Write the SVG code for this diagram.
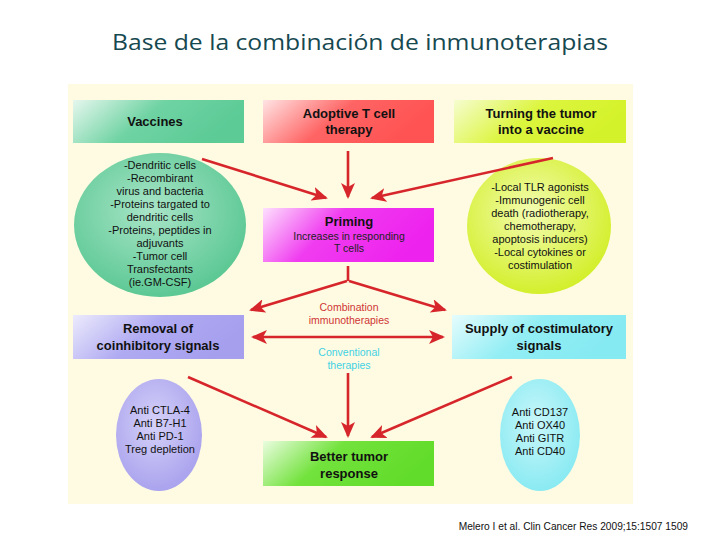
<svg xmlns="http://www.w3.org/2000/svg" width="720" height="540" viewBox="0 0 720 540">
<defs>
<style>
.title{font-family:"Open Sans","Liberation Sans",sans-serif;font-size:21px;fill:#164850;text-anchor:middle}
.bt{font-family:"Liberation Sans",Arial,sans-serif;font-weight:bold;font-size:13px;fill:#111;text-anchor:middle}
.st{font-family:"Liberation Sans",Arial,sans-serif;font-size:10.5px;fill:#222;text-anchor:middle}
.et{font-family:"Liberation Sans",Arial,sans-serif;font-size:11px;fill:#111;text-anchor:middle}
.cite{font-family:"Liberation Sans",Arial,sans-serif;font-size:10.2px;fill:#111;text-anchor:end}
.conn{stroke:#d7262b;stroke-width:2.6;fill:none}
</style>
<marker id="ah" markerUnits="userSpaceOnUse" markerWidth="16" markerHeight="14" refX="14" refY="7" orient="auto-start-reverse">
<path d="M0,0 L16,7 L0,14 L4,7 Z" fill="#d7262b"/>
</marker>
<linearGradient id="gGreen" x1="0" y1="0" x2="1" y2="0.3"><stop offset="0" stop-color="#e6f7ee"/><stop offset="0.5" stop-color="#6fd3a3"/><stop offset="1" stop-color="#5ccb96"/></linearGradient>
<linearGradient id="gRed" x1="0" y1="0" x2="1" y2="0.3"><stop offset="0" stop-color="#ffe4e4"/><stop offset="0.5" stop-color="#ff6464"/><stop offset="1" stop-color="#ff5252"/></linearGradient>
<linearGradient id="gYel" x1="0" y1="0" x2="1" y2="0.3"><stop offset="0" stop-color="#f6fdd0"/><stop offset="0.5" stop-color="#dcf53e"/><stop offset="1" stop-color="#d4f22a"/></linearGradient>
<linearGradient id="gMag" x1="0" y1="0" x2="1" y2="0.3"><stop offset="0" stop-color="#fde0fd"/><stop offset="0.45" stop-color="#f03cf0"/><stop offset="1" stop-color="#ee22ee"/></linearGradient>
<linearGradient id="gLav" x1="0" y1="0" x2="1" y2="0.3"><stop offset="0" stop-color="#ecebfc"/><stop offset="0.5" stop-color="#b0aaf2"/><stop offset="1" stop-color="#a69fee"/></linearGradient>
<linearGradient id="gCyan" x1="0" y1="0" x2="1" y2="0.3"><stop offset="0" stop-color="#e6fcfd"/><stop offset="0.5" stop-color="#92eef4"/><stop offset="1" stop-color="#86eaf2"/></linearGradient>
<linearGradient id="gLime" x1="0" y1="0" x2="1" y2="0.3"><stop offset="0" stop-color="#eafde0"/><stop offset="0.45" stop-color="#72e23c"/><stop offset="1" stop-color="#62dc2a"/></linearGradient>
<radialGradient id="rGreen" cx="0.45" cy="0.4" r="0.6"><stop offset="0" stop-color="#a9e5c8"/><stop offset="1" stop-color="#5cc894"/></radialGradient>
<radialGradient id="rYel" cx="0.45" cy="0.4" r="0.6"><stop offset="0" stop-color="#f3fcb2"/><stop offset="1" stop-color="#d3ef2c"/></radialGradient>
<radialGradient id="rLav" cx="0.45" cy="0.4" r="0.6"><stop offset="0" stop-color="#d6d2f8"/><stop offset="1" stop-color="#aaa3ee"/></radialGradient>
<radialGradient id="rCyan" cx="0.45" cy="0.4" r="0.6"><stop offset="0" stop-color="#c8f7fa"/><stop offset="1" stop-color="#8aeaf2"/></radialGradient>
</defs>
<rect width="720" height="540" fill="#ffffff"/>
<text class="title" x="360" y="50" textLength="496" lengthAdjust="spacingAndGlyphs">Base de la combinación de inmunoterapias</text>
<rect x="68" y="84" width="565" height="420" fill="#fffbe2"/>

<g id="label-combination">
<text class="st" x="349" y="311" style="fill:#cf3535">Combination</text>
<text class="st" x="349" y="324" style="fill:#cf3535">immunotherapies</text>
</g>
<g id="label-conventional">
<text class="st" x="349" y="356" style="fill:#3fd2e4">Conventional</text>
<text class="st" x="349" y="369" style="fill:#3fd2e4">therapies</text>
</g>

<g id="vaccines">
<rect x="73" y="100" width="171" height="43" fill="url(#gGreen)"/>
<text class="bt" x="155" y="126">Vaccines</text>
</g>
<g id="adoptive">
<rect x="263" y="100" width="171" height="43" fill="url(#gRed)"/>
<text class="bt" x="349" y="118">Adoptive T cell</text>
<text class="bt" x="349" y="134">therapy</text>
</g>
<g id="turning">
<rect x="454" y="100" width="172" height="43" fill="url(#gYel)"/>
<text class="bt" x="541" y="118">Turning the tumor</text>
<text class="bt" x="541" y="134">into a vaccine</text>
</g>

<g id="vaccines-list">
<ellipse cx="160" cy="225" rx="86" ry="72" fill="url(#rGreen)"/>
<text class="et" x="160" y="169">-Dendritic cells</text>
<text class="et" x="160" y="182">-Recombirant</text>
<text class="et" x="160" y="195">virus and bacteria</text>
<text class="et" x="160" y="208">-Proteins targated to</text>
<text class="et" x="160" y="221">dendritic cells</text>
<text class="et" x="160" y="234">-Proteins, peptides in</text>
<text class="et" x="160" y="247">adjuvants</text>
<text class="et" x="160" y="260">-Tumor cell</text>
<text class="et" x="160" y="273">Transfectants</text>
<text class="et" x="160" y="286">(ie.GM-CSF)</text>
</g>

<g id="turning-list">
<ellipse cx="539" cy="226" rx="72" ry="68" fill="url(#rYel)"/>
<text class="et" x="540" y="191">-Local TLR agonists</text>
<text class="et" x="540" y="204">-Immunogenic cell</text>
<text class="et" x="540" y="217">death (radiotherapy,</text>
<text class="et" x="540" y="230">chemotherapy,</text>
<text class="et" x="540" y="243">apoptosis inducers)</text>
<text class="et" x="540" y="256">-Local cytokines or</text>
<text class="et" x="540" y="269">costimulation</text>
</g>

<g id="priming">
<rect x="263" y="208" width="171" height="54" fill="url(#gMag)"/>
<text class="bt" x="349" y="226">Priming</text>
<text class="st" x="349" y="240">Increases in responding</text>
<text class="st" x="349" y="252">T cells</text>
</g>

<g id="removal">
<rect x="73" y="315" width="171" height="44" fill="url(#gLav)"/>
<text class="bt" x="158" y="333">Removal of</text>
<text class="bt" x="158" y="350">coinhibitory signals</text>
</g>
<g id="supply">
<rect x="452" y="315" width="174" height="44" fill="url(#gCyan)"/>
<text class="bt" x="539" y="333">Supply of costimulatory</text>
<text class="bt" x="539" y="350">signals</text>
</g>

<g id="removal-list">
<ellipse cx="159" cy="435" rx="43" ry="56" fill="url(#rLav)"/>
<text class="et" x="160" y="414">Anti CTLA-4</text>
<text class="et" x="160" y="427">Anti B7-H1</text>
<text class="et" x="160" y="440">Anti PD-1</text>
<text class="et" x="160" y="453">Treg depletion</text>
</g>
<g id="supply-list">
<ellipse cx="540" cy="435" rx="40" ry="56" fill="url(#rCyan)"/>
<text class="et" x="540" y="416">Anti CD137</text>
<text class="et" x="540" y="429">Anti OX40</text>
<text class="et" x="540" y="442">Anti GITR</text>
<text class="et" x="540" y="455">Anti CD40</text>
</g>

<g id="better">
<rect x="263" y="441" width="171" height="45" fill="url(#gLime)"/>
<text class="bt" x="349" y="461">Better tumor</text>
<text class="bt" x="349" y="478">response</text>
</g>

<g id="connectors">
<line class="conn" x1="202" y1="159" x2="326" y2="198" marker-end="url(#ah)"/>
<line class="conn" x1="348" y1="151" x2="348" y2="197" marker-end="url(#ah)"/>
<line class="conn" x1="553" y1="158" x2="372" y2="198" marker-end="url(#ah)"/>
<line class="conn" x1="348" y1="266" x2="348" y2="281"/>
<line class="conn" x1="347" y1="281" x2="251" y2="310" marker-end="url(#ah)"/>
<line class="conn" x1="349" y1="281" x2="445" y2="310" marker-end="url(#ah)"/>
<line class="conn" x1="253" y1="337" x2="443" y2="337" marker-start="url(#ah)" marker-end="url(#ah)"/>
<line class="conn" x1="348" y1="373" x2="348" y2="436" marker-end="url(#ah)"/>
<line class="conn" x1="188" y1="377" x2="326" y2="437" marker-end="url(#ah)"/>
<line class="conn" x1="512" y1="377" x2="372" y2="437" marker-end="url(#ah)"/>
</g>

<text class="cite" x="688" y="530">Melero I et al. Clin Cancer Res 2009;15:1507 1509</text>
</svg>
